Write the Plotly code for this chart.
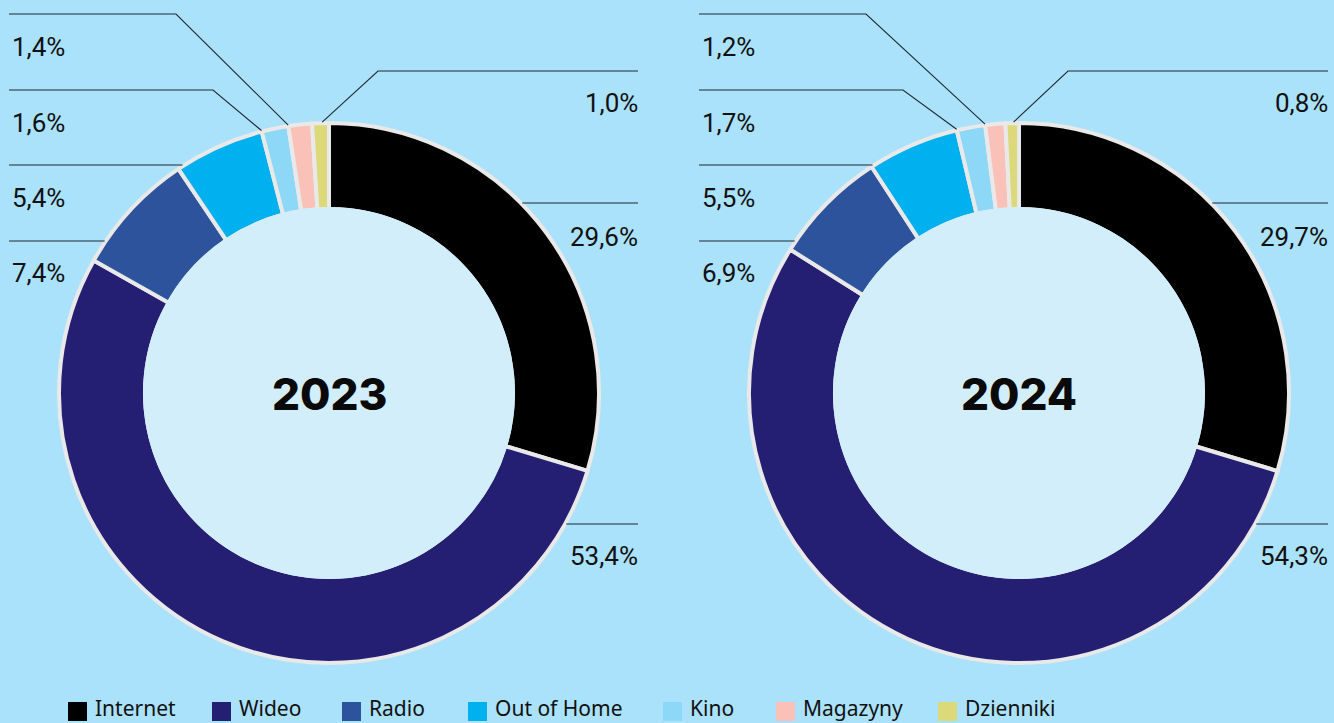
import math
import plotly.graph_objects as go

# ---------------- data ----------------
categories = ["Internet", "Wideo", "Radio", "Out of Home", "Kino", "Magazyny", "Dzienniki"]
values_2023 = [29.6, 53.4, 7.4, 5.4, 1.6, 1.4, 1.0]
values_2024 = [29.7, 54.3, 6.9, 5.5, 1.7, 1.2, 0.8]
years = ["2023", "2024"]
colors = ["#000000", "#241f72", "#2d539d", "#00b0ef", "#8dd7f7", "#f9c1b7", "#dcd97b"]

# ---------------- layout constants ----------------
W, H = 1334, 723
BG = "#aae1fb"
INNER = "#d2eefb"
EDGE = "#e9e9e9"
CENTERS = [(329, 393), (1019, 393)]
R_OUT = 270
R_IN = 186
LEFT_X = -320     # label/line start relative to centre
RIGHT_X = 309     # label/line end relative to centre
# per category: side, line y, label y, elbow x (relative) or None, anchor fraction inside slice
label_layout = {
    "Internet":    ("right", 203, 237, None, None),
    "Wideo":       ("right", 524, 556, None, None),
    "Radio":       ("left", 241, 273, None, None),
    "Out of Home": ("left", 165, 198, None, None),
    "Kino":        ("left", 90, 123, -116, 0.0),
    "Magazyny":    ("left", 14, 47, -153, 0.0),
    "Dzienniki":   ("right", 71, 103, 49, 0.6),
}
legend_x = [68, 212, 342, 468, 663, 776, 938]
LEG_Y0, LEG_SIZE = 702, 19


def px(x):
    return x / W


def py(y):
    return 1 - y / H


def fmt(v):
    return f"{v:.1f}".replace(".", ",") + "%"


fig = go.Figure()
shapes = []
annotations = []
LINE = dict(color="#1e2a33", width=1.1)

for (cx, cy), year, vals in zip(CENTERS, years, [values_2023, values_2024]):
    fig.add_trace(go.Pie(
        labels=categories, values=vals, sort=False, direction="clockwise", rotation=0,
        hole=(R_IN - 2) / R_OUT,
        marker=dict(colors=colors, line=dict(color=EDGE, width=4)),
        textinfo="none", hoverinfo="label+percent", showlegend=False,
        domain=dict(x=[px(cx - R_OUT), px(cx + R_OUT)], y=[py(cy + R_OUT), py(cy - R_OUT)]),
    ))
    # inner disc
    shapes.append(dict(type="circle", xref="paper", yref="paper", layer="above",
                       x0=px(cx - R_IN), x1=px(cx + R_IN), y0=py(cy + R_IN), y1=py(cy - R_IN),
                       fillcolor=INNER, line=dict(width=0)))
    annotations.append(dict(x=px(cx), y=py(cy + 1), xref="paper", yref="paper", text=year,
                            showarrow=False, xanchor="center", yanchor="middle",
                            font=dict(family="Inter", size=44, color="#0a0a0a", weight=800)))
    total = sum(vals)
    cum = 0.0
    for cat, v in zip(categories, vals):
        side, ly, ty, elbow, afrac = label_layout[cat]
        r = R_OUT + 1
        if elbow is None:
            dy = ly - cy
            dx = math.sqrt(max(r * r - dy * dy, 0))
            if side == "left":
                pts = [(cx + LEFT_X, ly), (cx - dx, ly)]
            else:
                pts = [(cx + dx, ly), (cx + RIGHT_X, ly)]
        else:
            theta = 2 * math.pi * (cum + afrac * v) / total
            ax = cx + r * math.sin(theta)
            ay = cy - r * math.cos(theta)
            if side == "left":
                pts = [(cx + LEFT_X, ly), (cx + elbow, ly), (ax, ay)]
            else:
                pts = [(ax, ay), (cx + elbow, ly), (cx + RIGHT_X, ly)]
        path = "M " + " L ".join(f"{px(x):.5f},{py(y):.5f}" for x, y in pts)
        shapes.append(dict(type="path", xref="paper", yref="paper", path=path,
                           line=LINE, layer="above"))
        if side == "left":
            annotations.append(dict(x=px(cx + LEFT_X + 1), y=py(ty), xref="paper", yref="paper",
                                    text=fmt(v), showarrow=False, xanchor="left", yanchor="middle",
                                    font=dict(family="Roboto", size=26, color="#111111")))
        else:
            annotations.append(dict(x=px(cx + RIGHT_X + 2), y=py(ty), xref="paper", yref="paper",
                                    text=fmt(v), showarrow=False, xanchor="right", yanchor="middle",
                                    font=dict(family="Roboto", size=26, color="#111111")))
        cum += v

# legend drawn manually
for cat, col, lx in zip(categories, colors, legend_x):
    shapes.append(dict(type="rect", xref="paper", yref="paper",
                       x0=px(lx), x1=px(lx + LEG_SIZE), y0=py(LEG_Y0 + LEG_SIZE), y1=py(LEG_Y0),
                       fillcolor=col, line=dict(width=0)))
    annotations.append(dict(x=px(lx + LEG_SIZE + 7), y=py(H - 0.5), xref="paper",
                            yref="paper", text=cat, showarrow=False, xanchor="left",
                            yanchor="bottom", borderpad=0,
                            font=dict(family="Noto Sans", size=21, color="#111111")))

fig.update_layout(
    width=W, height=H, autosize=False,
    margin=dict(l=0, r=0, t=0, b=0),
    paper_bgcolor=BG, plot_bgcolor=BG,
    shapes=shapes, annotations=annotations,
    showlegend=False,
)

fig.write_html(
    "out.html",
    config={"displayModeBar": False},
    post_script="document.body.style.margin='0';document.body.style.padding='0';"
                "document.body.style.overflow='hidden';",
)
